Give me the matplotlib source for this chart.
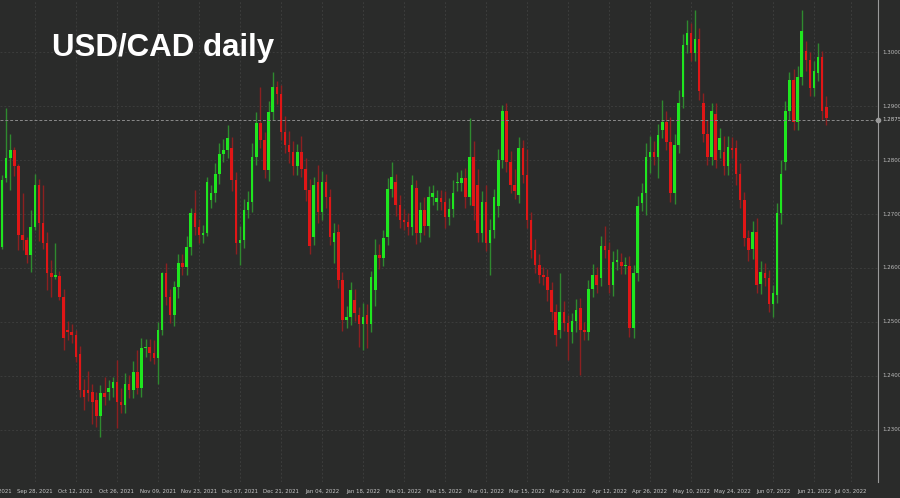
import matplotlib
matplotlib.use("Agg")
import matplotlib.pyplot as plt
import numpy as np
import pandas as pd

dates = pd.bdate_range("2021-09-15", periods=203)

opens = [
1.2618,1.2639,1.2766,1.2803,1.2818,1.2788,1.2661,1.2652,1.2624,1.2676,
1.2754,1.2683,1.2646,1.2590,1.2584,1.2585,1.2547,1.2486,1.2482,1.2476,
1.2440,1.2374,1.2374,1.2371,1.2355,1.2325,1.2368,1.2371,1.2377,1.2389,
1.2352,1.2346,1.2386,1.2374,1.2408,1.2377,1.2451,1.2454,1.2442,1.2433,
1.2485,1.2590,1.2547,1.2513,1.2565,1.2610,1.2602,1.2639,1.2701,1.2676,
1.2661,1.2664,1.2726,1.2738,1.2775,1.2812,1.2818,1.2822,1.2763,1.2646,
1.2652,1.2707,1.2723,1.2806,1.2868,1.2837,1.2781,1.2889,1.2936,1.2923,
1.2852,1.2828,1.2815,1.2788,1.2815,1.2784,1.2744,1.2658,1.2760,1.2704,
1.2760,1.2732,1.2649,1.2667,1.2578,1.2504,1.2510,1.2541,1.2513,1.2497,
1.2513,1.2497,1.2559,1.2624,1.2618,1.2658,1.2747,1.2760,1.2716,1.2689,
1.2686,1.2676,1.2748,1.2664,1.2707,1.2677,1.2732,1.2723,1.2729,1.2723,
1.2695,1.2710,1.2757,1.2757,1.2766,1.2732,1.2806,1.2754,1.2664,1.2723,
1.2646,1.2670,1.2714,1.2800,1.2890,1.2797,1.2754,1.2735,1.2822,1.2772,
1.2689,1.2634,1.2606,1.2587,1.2584,1.2559,1.2519,1.2485,1.2519,1.2498,
1.2482,1.2501,1.2525,1.2485,1.2482,1.2562,1.2587,1.2581,1.2640,1.2634,
1.2569,1.2612,1.2612,1.2603,1.2603,1.2488,1.2590,1.2720,1.2738,1.2806,
1.2815,1.2806,1.2855,1.2871,1.2834,1.2738,1.2828,1.2917,1.3013,1.3035,
1.2998,1.3025,1.2905,1.2849,1.2806,1.2886,1.2818,1.2815,1.2788,1.2822,
1.2822,1.2775,1.2726,1.2655,1.2636,1.2667,1.2571,1.2590,1.2581,1.2534,
1.2550,1.2701,1.2797,1.2890,1.2948,1.2871,1.2954,1.3001,1.2985,1.2933,
1.2961,1.2991,1.2899]

closes = [
1.2683,1.2763,1.2803,1.2818,1.2788,1.2661,1.2652,1.2624,1.2676,1.2754,
1.2683,1.2646,1.2590,1.2584,1.2585,1.2547,1.2470,1.2482,1.2476,1.2436,
1.2374,1.2362,1.2368,1.2352,1.2325,1.2368,1.2362,1.2377,1.2389,1.2352,
1.2346,1.2386,1.2374,1.2408,1.2377,1.2451,1.2454,1.2442,1.2433,1.2485,
1.2590,1.2547,1.2513,1.2565,1.2610,1.2602,1.2639,1.2701,1.2676,1.2661,
1.2664,1.2760,1.2738,1.2775,1.2812,1.2818,1.2840,1.2763,1.2646,1.2652,
1.2707,1.2723,1.2806,1.2868,1.2837,1.2781,1.2889,1.2936,1.2923,1.2852,
1.2828,1.2815,1.2788,1.2815,1.2784,1.2744,1.2640,1.2753,1.2704,1.2760,
1.2732,1.2658,1.2664,1.2578,1.2504,1.2510,1.2559,1.2516,1.2497,1.2510,
1.2497,1.2584,1.2624,1.2618,1.2655,1.2747,1.2769,1.2716,1.2689,1.2686,
1.2676,1.2753,1.2664,1.2707,1.2677,1.2732,1.2738,1.2729,1.2723,1.2695,
1.2710,1.2738,1.2758,1.2766,1.2732,1.2806,1.2714,1.2664,1.2723,1.2646,
1.2670,1.2732,1.2800,1.2890,1.2797,1.2754,1.2742,1.2822,1.2772,1.2689,
1.2634,1.2606,1.2587,1.2584,1.2559,1.2519,1.2476,1.2519,1.2498,1.2482,
1.2501,1.2522,1.2485,1.2482,1.2562,1.2587,1.2569,1.2640,1.2634,1.2569,
1.2612,1.2615,1.2603,1.2606,1.2488,1.2590,1.2714,1.2738,1.2806,1.2815,
1.2806,1.2846,1.2871,1.2834,1.2738,1.2828,1.2905,1.3013,1.3035,1.2998,
1.3025,1.2927,1.2849,1.2806,1.2890,1.2800,1.2840,1.2788,1.2825,1.2818,
1.2775,1.2726,1.2655,1.2633,1.2667,1.2568,1.2593,1.2581,1.2534,1.2553,
1.2701,1.2775,1.2890,1.2948,1.2871,1.2954,1.3038,1.2985,1.2933,1.2964,
1.2991,1.2890,1.2877]

# wick lengths in pips above the body top / below the body bottom
upper_pips = [
15,9,93,31,7,5,77,5,31,21, 10,71,20,25,61,10,15,15,15,10,
15,20,35,15,15,15,30,15,10,40, 25,20,15,20,40,20,15,15,25,15,
3,20,15,10,15,15,20,10,43,15, 15,9,15,20,20,20,25,20,15,25,
20,20,25,20,67,15,20,27,10,15, 30,25,20,15,30,20,20,15,30,20,
15,15,20,15,15,20,15,20,15,25, 20,10,30,20,15,20,28,15,20,20,
15,20,15,15,25,20,15,15,15,20, 20,25,20,15,20,71,30,30,20,30,
20,15,20,12,15,20,30,20,15,49, 15,20,20,15,15,15,15,71,20,15,
15,20,20,15,15,20,15,20,37,15, 20,20,15,15,20,15,20,20,25,30,
20,20,40,20,45,20,25,20,25,18, 53,20,20,25,15,20,20,30,20,20,
15,20,15,15,20,25,20,20,15,15, 20,25,20,15,20,20,40,20,15,20,
25,10,20]

lower_pips = [
3,3,6,59,18,28,19,15,31,5, 33,10,31,37,5,6,22,15,15,10,
12,25,15,40,19,38,15,15,15,49, 15,15,15,15,10,15,15,15,10,47,
10,15,15,20,20,15,15,15,15,15, 15,5,15,15,20,15,15,20,20,40,
15,15,20,15,15,15,20,15,20,15, 15,20,15,15,15,20,15,15,20,15,
20,15,40,15,20,15,15,15,43,48, 45,15,30,20,15,15,15,20,15,15,
15,15,20,15,15,20,15,15,15,20, 15,15,15,15,20,15,25,15,15,15,
59,15,20,15,20,15,15,15,15,15, 15,15,15,15,20,15,20,15,15,52,
20,20,83,15,15,15,15,15,15,15, 20,15,15,15,15,18,15,15,40,30,
15,40,15,15,15,20,15,20,15,15, 15,15,15,15,15,15,15,15,15,15,
22,15,15,20,20,15,20,15,15,25, 15,20,15,15,15,15,15,20,15,15,
15,15,12]

y_ticks = [1.23, 1.24, 1.25, 1.26, 1.27, 1.28, 1.29, 1.30]
last_price = 1.2875
x_label_dates = ["2021-09-14","2021-09-28","2021-10-12","2021-10-26","2021-11-09","2021-11-23",
                 "2021-12-07","2021-12-21","2022-01-04","2022-01-18","2022-02-01","2022-02-15",
                 "2022-03-01","2022-03-15","2022-03-29","2022-04-12","2022-04-26","2022-05-10",
                 "2022-05-24","2022-06-07","2022-06-21","2022-07-03"]

BG = "#2a2b2a"
fig = plt.figure(figsize=(9, 4.98), dpi=100, facecolor=BG)
ax = fig.add_axes([0, 16/498, 878/900, 482/498])
ax.set_facecolor(BG)

o = np.array(opens); c = np.array(closes)
hi = np.maximum(o, c) + np.array(upper_pips) / 10000
lo = np.minimum(o, c) - np.array(lower_pips) / 10000
x = np.arange(len(o))
up = c >= o
body_col = np.where(up, "#1fe61f", "#e01616")
wick_col = np.where(up, "#2f8a2f", "#8c2020")

ax.vlines(x, lo, hi, colors=wick_col, linewidth=1.0, zorder=2)
bh = np.maximum(np.abs(c - o), 0.00025)
ax.bar(x, bh, bottom=np.minimum(o, c), width=0.62, color=body_col, linewidth=0, zorder=3)

base = pd.Timestamp("2021-09-15")
def xpos(d):
    d = pd.Timestamp(d)
    return np.busday_count(base.date(), d.date())
label_x = [xpos(d) for d in x_label_dates]
label_txt = [pd.Timestamp(d).strftime("%b %d, %Y") for d in x_label_dates]

ax.set_xlim(0.5, 214.6)
ax.set_ylim(1.22037, 1.30963)
for lx in label_x:
    ax.axvline(lx, color="#3c3d3c", linewidth=0.7, linestyle=(0, (2, 2)), zorder=1)
for yt in y_ticks:
    ax.axhline(yt, color="#3c3d3c", linewidth=0.7, linestyle=(0, (2, 2)), zorder=1)
ax.axhline(last_price, color="#8a8a8a", linewidth=0.7, linestyle=(0, (3, 2)), zorder=4)

for s in ["top", "left", "bottom"]:
    ax.spines[s].set_visible(False)
ax.spines["right"].set_color("#9a9a9a")
ax.spines["right"].set_linewidth(0.8)
ax.set_xticks([]); ax.set_yticks([])

for yt in y_ticks:
    ax.annotate(f"{yt:.4f}", xy=(1, yt), xycoords=("axes fraction", "data"),
                xytext=(3, 0), textcoords="offset points", va="center", ha="left",
                color="#bdbdbd", fontsize=4.0, annotation_clip=False)
ax.annotate(f"{last_price:.4f}", xy=(1, last_price), xycoords=("axes fraction", "data"),
            xytext=(3, 0), textcoords="offset points", va="center", ha="left",
            color="#d0d0d0", fontsize=4.0, annotation_clip=False)
ax.plot([1.0], [last_price], marker="o", markersize=3, color="#9a9a9a",
        transform=ax.get_yaxis_transform(), clip_on=False, zorder=5)

for lx, t in zip(label_x, label_txt):
    ax.annotate(t, xy=(lx, 0), xycoords=("data", "axes fraction"), xytext=(0, -6.5),
                textcoords="offset points", ha="center", va="center",
                color="#c8c8c8", fontsize=3.9, annotation_clip=False)

fig.text(52/900, 1 - 48/498, "USD/CAD daily", color="white", fontsize=22.5,
         fontweight="bold", family="Liberation Sans", va="center", ha="left")

fig.savefig("out.png", dpi=100, facecolor=BG)
